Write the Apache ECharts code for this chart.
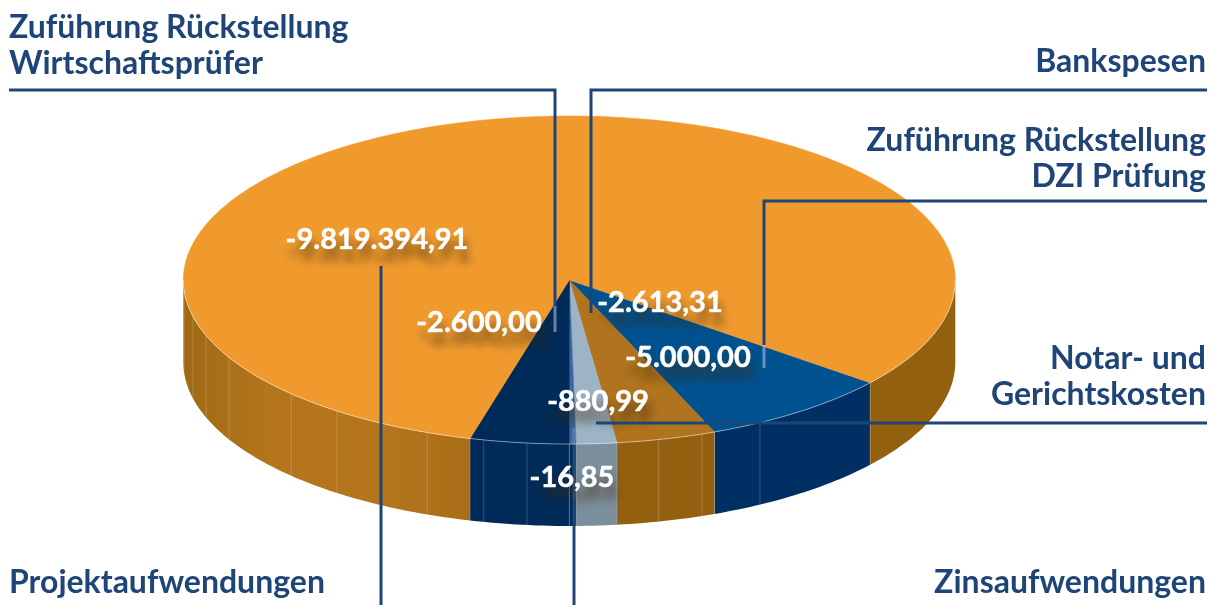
<!DOCTYPE html>
<html>
<head>
<meta charset="utf-8">
<title>Aufwendungen</title>
<style>
	html, body { margin: 0; padding: 0; background: #fff; }
	#chart { width: 1211px; height: 605px; }
</style>
<script src="https://cdn.jsdelivr.net/npm/echarts@6/dist/echarts.min.js"></script>
</head>
<body>
<div id="chart"></div>
<script>
// clockwise from the right edge of the blue wedge
var categories = ['DZI Prüfung', 'Bankspesen', 'Notar- und Gerichtskosten', 'Zinsaufwendungen', 'Wirtschaftsprüfer', 'Projektaufwendungen'];
var amounts = [-5000.00, -2613.31, -880.99, -16.85, -2600.00, -9819394.91];
// the wedges in the picture are not to scale with the amounts, so their angles are read separately
var wedgeDegrees = [29.1, 15.0, 6.1, 1.0, 14.9, 293.9];

var seamDegrees = [176.5, 167.1, 160.2, 151.8, 136.1, 127.0, 111.6, 104.9, 102.8, 96.3, 90, 89, 82.9, 76.6, 69.9, 67.9, 60.4, 38.8];

var PIE = { cx: 569.3, cy: 280, rx: 386, ry: 164, depth: 82, start: 38.8 };
var FONT = 'Lato';
var LINE_COLOR = '#1f4478';

var topColors = ['#00518f', '#af741d', '#9db4c6', '#3d66a3', '#002a57', '#f09a2e'];
var wallColors = ['#002f63', '#93600f', '#7b8e9c', '#002b59', '#002b59', null];
var orangeWallLeft = {
	type: 'linear', x: 0, y: 0, x2: 1, y2: 0,
	colorStops: [
		{ offset: 0, color: '#9f6915' },
		{ offset: 0.3, color: '#b4751c' },
		{ offset: 0.7, color: '#b4751c' },
		{ offset: 1, color: '#a96d17' }
	]
};

var valueLabels = [
	{ x: 688, y: 358 },
	{ x: 660, y: 303 },
	{ x: 598, y: 402 },
	{ x: 572, y: 478 },
	{ x: 479, y: 323 },
	{ x: 377, y: 240 }
];

// name text blocks: align, anchor x, y of the block's middle
var nameBlocks = [
	{ text: 'Zuführung Rückstellung\nWirtschaftsprüfer', align: 'left', x: 9, y: 46 },
	{ text: 'Bankspesen', align: 'right', x: 1206, y: 62 },
	{ text: 'Zuführung Rückstellung\nDZI Prüfung', align: 'right', x: 1206, y: 159 },
	{ text: 'Notar- und\nGerichtskosten', align: 'right', x: 1206, y: 377 },
	{ text: 'Projektaufwendungen', align: 'left', x: 9, y: 583 },
	{ text: 'Zinsaufwendungen', align: 'right', x: 1206, y: 583 }
];

var leaders = [
	[[9, 90], [555, 90], [555, 306]],
	[[1207, 90], [591, 90], [591, 313]],
	[[1207, 201], [764, 201], [764, 345]],
	[[1207, 423], [596, 423]],
	[[381, 605], [381, 266]],
	[[574, 605], [574, 500]]
];
// the part of a leader that runs over a dark wedge is drawn paler
var leaderTips = [
	{ points: [[555, 306], [555, 332]], stroke: 'rgba(190,200,225,0.55)' },
	{ points: [[764, 345], [764, 368]], stroke: 'rgba(190,200,225,0.55)' },
	{ points: [[574, 500], [574, 428]], stroke: 'rgba(190,200,225,0.2)' }
];

function rimPoint (deg, drop) {
	var rad = deg * Math.PI / 180;
	return [PIE.cx + PIE.rx * Math.cos(rad), PIE.cy + PIE.ry * Math.sin(rad) + (drop || 0)];
}

function arcPoints (from, to, drop) {
	var pts = [];
	var steps = Math.max(2, Math.ceil(Math.abs(to - from)));
	for (var i = 0; i <= steps; i++) {
		pts.push(rimPoint(from + (to - from) * i / steps, drop));
	}
	return pts;
}

function wedgeStart (index) {
	var total = 0;
	for (var i = 0; i < index; i++) {
		total += wedgeDegrees[i];
	}
	return PIE.start + total;
}

function formatAmount (value) {
	return value.toLocaleString('de-DE', { minimumFractionDigits: 2, maximumFractionDigits: 2 });
}

function renderWedge (params, api) {
	var i = params.dataIndex;
	var from = wedgeStart(i);
	var to = from + api.value(0);
	var children = [];

	// only the front half of the rim has a visible wall
	[0, 360].forEach(function (turn) {
		var lo = Math.max(from, turn);
		var hi = Math.min(to, turn + 180);
		if (hi <= lo) {
			return;
		}
		var fill = wallColors[i] || (turn === 0 ? orangeWallLeft : '#93600f');
		children.push({
			type: 'polygon',
			shape: { points: arcPoints(lo, hi, 0).concat(arcPoints(hi, lo, PIE.depth)) },
			style: { fill: fill }
		});
		children.push({
			type: 'polyline',
			z2: 4,
			shape: { points: arcPoints(lo, hi, 0) },
			style: { fill: null, stroke: 'rgba(255,255,255,0.45)', lineWidth: 1 }
		});
	});

	children.push({
		type: 'polygon',
		z2: 2,
		shape: { points: [[PIE.cx, PIE.cy]].concat(arcPoints(from, to, 0)) },
		style: { fill: topColors[i], stroke: topColors[i], lineWidth: 0.5 }
	});

	children.push({
		type: 'text',
		z2: 10,
		style: {
			text: formatAmount(amounts[i]),
			x: valueLabels[i].x,
			y: valueLabels[i].y,
			align: 'center',
			verticalAlign: 'middle',
			fill: '#fff',
			stroke: '#fff',
			lineWidth: 0.6,
			font: '700 29px ' + FONT,
			textShadowColor: 'rgba(60,40,10,0.55)',
			textShadowBlur: 9,
			textShadowOffsetX: 3,
			textShadowOffsetY: 12
		}
	});

	return { type: 'group', children: children };
}

function renderSeam (params, api) {
	var deg = api.value(0);
	var a = rimPoint(deg, 0);
	var b = rimPoint(deg, PIE.depth);
	return {
		type: 'line',
		z2: 3,
		shape: { x1: a[0], y1: a[1], x2: b[0], y2: b[1] },
		style: { stroke: 'rgba(255,255,255,0.2)', lineWidth: 1 }
	};
}

function buildGraphic () {
	var elements = [];
	leaders.forEach(function (pts) {
		elements.push({
			type: 'polyline',
			z: 20,
			shape: { points: pts },
			style: { fill: null, stroke: LINE_COLOR, lineWidth: 3 }
		});
	});
	leaderTips.forEach(function (tip) {
		elements.push({
			type: 'polyline',
			z: 20,
			shape: { points: tip.points },
			style: { fill: null, stroke: tip.stroke, lineWidth: 3 }
		});
	});
	nameBlocks.forEach(function (block) {
		elements.push({
			type: 'text',
			z: 20,
			x: block.x,
			y: block.y,
			style: {
				text: block.text,
				align: block.align,
				verticalAlign: 'middle',
				lineHeight: 36,
				fill: LINE_COLOR,
				font: '700 32px ' + FONT
			}
		});
	});
	return elements;
}

function chart () {
	var pie = echarts.init(document.getElementById('chart'), null, { renderer: 'canvas' });
	pie.setOption({
		animation: false,
		backgroundColor: '#fff',
		series: [
			{
				type: 'custom',
				coordinateSystem: 'none',
				silent: true,
				encode: { value: 0 },
				data: wedgeDegrees.map(function (d) { return [d]; }),
				renderItem: renderWedge
			},
			{
				type: 'custom',
				coordinateSystem: 'none',
				silent: true,
				z: 3,
				data: seamDegrees.map(function (d) { return [d]; }),
				renderItem: renderSeam
			}
		],
		graphic: { elements: buildGraphic() }
	});
}
chart();
</script>
</body>
</html>
